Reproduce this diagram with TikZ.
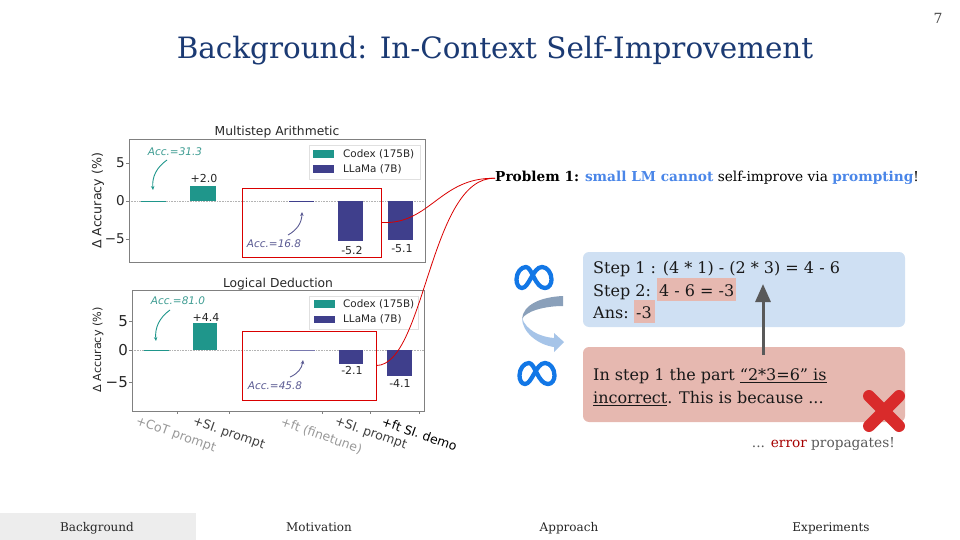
\documentclass[tikz,border=0pt]{standalone}
\usepackage{fontspec}
\setmainfont{DejaVu Serif}
\newfontfamily\plotfont{DejaVu Sans}
\usetikzlibrary{arrows.meta}
\definecolor{titleblue}{HTML}{1B3A73}
\definecolor{hiblue}{HTML}{4A86E8}
\definecolor{codexteal}{HTML}{1F968B}
\definecolor{llamanavy}{HTML}{3F3F8C}
\definecolor{accteal}{HTML}{3E9C92}
\definecolor{accnavy}{HTML}{5A5A92}
\definecolor{stepblue}{HTML}{CFE0F3}
\definecolor{stepred}{HTML}{E6B8B0}
\definecolor{axisgray}{HTML}{808080}
\definecolor{metablue}{HTML}{1277E6}
\definecolor{crossred}{HTML}{D92B2B}
\definecolor{turndark}{HTML}{8AA0BA}
\definecolor{turnlight}{HTML}{A6C4E8}
\newcommand{\fsize}[1]{\fontsize{#1}{#1}\selectfont}
\newcommand{\ulbar}[1]{\setbox0\hbox{#1}\rlap{\rule[-3pt]{\wd0}{1.3pt}}\box0}
\begin{document}
\begin{tikzpicture}[x=1pt,y=-1pt]
\tikzstyle{every node}+=[inner sep=0pt]
\tikzstyle{plotaxes}=[draw=axisgray,line width=0.8pt]
\tikzstyle{zeroline}=[axisgray!60,densely dotted,line width=0.6pt]
\tikzstyle{codexbar}=[fill=codexteal]
\tikzstyle{llamabar}=[fill=llamanavy]
\tikzstyle{charttitle}=[font=\plotfont\fsize{12.3},text=black!85]
\tikzstyle{yticktext}=[anchor=east,text=black!85]
\tikzstyle{ylabeltext}=[rotate=90,text=black!85]
\tikzstyle{legendtext}=[font=\plotfont\fsize{10.4},anchor=west,text=black!85]
\tikzstyle{legendbox}=[draw=black!12,fill=white,line width=0.5pt]
\tikzstyle{valuetext}=[font=\plotfont\fsize{11},text=black!85]
\tikzstyle{acctext}=[font=\plotfont\itshape\fsize{10.5}]
\tikzstyle{accarrow}=[-{Stealth[length=4pt,width=3.5pt]},line width=0.9pt]
\tikzstyle{redframe}=[draw=red!85!black,line width=0.9pt,minimum width=0pt]
\tikzstyle{xlabeltext}=[font=\plotfont\fsize{12.5},rotate=-19.5,anchor=north west]
\tikzstyle{linkcurve}=[red!85!black,line width=0.8pt]
\tikzstyle{stepbox}=[rounded corners=6pt]
\tikzstyle{steptext}=[font=\fsize{16},anchor=base west,text=black!90]
\tikzstyle{tabtext}=[font=\fsize{12},anchor=base,text=black!85]
\useasboundingbox (0,0) rectangle (960,540);
% header
\node (titletext) [font=\fsize{29.4},anchor=base,text=titleblue] at (495,59) {Background: In-Context Self-Improvement};
\node (pagenum) [font=\fsize{14},text=black!70] at (938,18) {7};
% footer
\fill [black!7] (0,513) rectangle (196,540);
\node (tabbackground) [tabtext] at (97,531) {Background};
\node (tabmotivation) [tabtext] at (319,531) {Motivation};
\node (tabapproach) [tabtext] at (569,531) {Approach};
\node (tabexperiments) [tabtext] at (831,531) {Experiments};
% upper chart
\draw [zeroline] (129,201) -- (425,201);
\fill [codexbar] (141,200.5) rectangle (166,201.5);
\fill [codexbar] (190,186) rectangle (216,201);
\fill [llamabar] (289,200.5) rectangle (314,201.5);
\fill [llamabar] (338,201) rectangle (363,241);
\fill [llamabar] (388,201) rectangle (413,240);
\draw [plotaxes] (129,139) rectangle (425,262);
\foreach \ypos in {163,201,239} \draw [axisgray] (126,\ypos) -- (129,\ypos);
\node (uppertitle) [charttitle] at (277,132.5) {Multistep Arithmetic};
\node (upperfive) [yticktext,font=\plotfont\fsize{13.5}] at (125,163) {5};
\node (upperzero) [yticktext,font=\plotfont\fsize{13.5}] at (125,201) {0};
\node (upperminus) [yticktext,font=\plotfont\fsize{13.5}] at (125,239) {−5};
\node (upperylabel) [ylabeltext,font=\plotfont\fsize{12.6}] at (98,201) {Δ Accuracy (\%)};
\draw [legendbox] (309,145) rectangle (420,179);
\fill [codexbar] (313,150) rectangle (334,158);
\fill [llamabar] (313,165) rectangle (334,173);
\node (uppercodex) [legendtext] at (343,154) {Codex (175B)};
\node (upperllama) [legendtext] at (343,169) {LLaMa (7B)};
\node (uppergain) [valuetext] at (204,178) {+2.0};
\node (upperdropa) [valuetext] at (352,250) {-5.2};
\node (upperdropb) [valuetext] at (402,249) {-5.1};
\node (upperacca) [acctext,text=accteal] at (175,152) {Acc.=31.3};
\node (upperaccb) [acctext,text=accnavy] at (274,244) {Acc.=16.8};
\coordinate (upperarrowa) at (167,160);
\coordinate (upperheada) at (153,190);
\coordinate (upperarrowb) at (288,235);
\coordinate (upperheadb) at (302,212);
\draw [accarrow,codexteal] (upperarrowa) to [bend right=30] (upperheada);
\draw [accarrow,accnavy] (upperarrowb) to [bend right=30] (upperheadb);
\node (upperframe) [redframe,minimum width=139pt,minimum height=69pt] at (311.5,222.5) {};
% lower chart
\draw [zeroline] (132,350) -- (424,350);
\fill [codexbar] (144,349.5) rectangle (169,350.5);
\fill [codexbar] (193,323) rectangle (217,350);
\fill [fill=llamanavy!70] (290,349.5) rectangle (315,351);
\fill [llamabar] (339,350) rectangle (363,364);
\fill [llamabar] (387,350) rectangle (412,376);
\draw [plotaxes] (132,290) rectangle (424,411);
\foreach \ypos in {321,350,382} \draw [axisgray] (129,\ypos) -- (132,\ypos);
\foreach \xpos in {177,229,322,370,419} \draw [axisgray] (\xpos,411) -- (\xpos,414);
\node (lowertitle) [charttitle] at (278,284) {Logical Deduction};
\node (lowerfive) [yticktext,font=\plotfont\fsize{15}] at (128,321) {5};
\node (lowerzero) [yticktext,font=\plotfont\fsize{15}] at (128,350) {0};
\node (lowerminus) [yticktext,font=\plotfont\fsize{15}] at (128,382) {−5};
\node (lowerylabel) [ylabeltext,font=\plotfont\fsize{11.2}] at (98,350) {Δ Accuracy (\%)};
\draw [legendbox] (309,296) rectangle (418,329);
\fill [codexbar] (314,300) rectangle (335,308);
\fill [llamabar] (314,316) rectangle (335,323);
\node (lowercodex) [legendtext] at (343,304) {Codex (175B)};
\node (lowerllama) [legendtext] at (343,319.5) {LLaMa (7B)};
\node (lowergain) [valuetext] at (206,317) {+4.4};
\node (lowerdropa) [valuetext] at (352,370) {-2.1};
\node (lowerdropb) [valuetext] at (400,383) {-4.1};
\node (loweracca) [acctext,text=accteal] at (178,301) {Acc.=81.0};
\node (loweraccb) [acctext,text=accnavy] at (275,386) {Acc.=45.8};
\coordinate (lowerarrowa) at (170,310);
\coordinate (lowerheada) at (156,341);
\coordinate (lowerarrowb) at (290,377);
\coordinate (lowerheadb) at (303,360);
\draw [accarrow,codexteal] (lowerarrowa) to [bend right=30] (lowerheada);
\draw [accarrow,accnavy] (lowerarrowb) to [bend right=30] (lowerheadb);
\node (lowerframe) [redframe,minimum width=134pt,minimum height=69pt] at (309,365.5) {};
\node (xlabela) [xlabeltext,text=black!40] at (138,415) {+CoT prompt};
\node (xlabelb) [xlabeltext,text=black!75] at (195,415) {+SI. prompt};
\node (xlabelc) [xlabeltext,text=black!40] at (283,416) {+ft (finetune)};
\node (xlabeld) [xlabeltext,text=black!75] at (337,415) {+SI. prompt};
\node (xlabele) [xlabeltext,text=black] at (384,416) {+ft SI. demo};
% problem statement
\node (problemtext) [font=\fsize{13.7},anchor=base west] at (495,182) {\textbf{Problem 1:} \textcolor{hiblue}{\textbf{small LM cannot}} self-improve via \textcolor{hiblue}{\textbf{prompting}}!};
\draw [linkcurve] (upperframe.east) .. controls (430,225) and (440,177) .. (problemtext.west);
\draw [linkcurve] (lowerframe.east) .. controls (425,365) and (430,176) .. (problemtext.west);
% steps
\node (answerbox) [stepbox,fill=stepblue,minimum width=322pt,minimum height=75pt] at (744,289.5) {};
\node (feedbackbox) [stepbox,fill=stepred,minimum width=322pt,minimum height=75pt] at (744,384.5) {};
\fill [stepred] (657,278) rectangle (736,301);
\fill [stepred] (634,300) rectangle (655,323);
\node (stepone) [steptext] at (593,273) {Step 1 : (4 * 1) - (2 * 3) = 4 - 6};
\node (steptwo) [steptext] at (593,296) {Step 2:};
\node (steptwoval) [steptext] at (659,296) {4 - 6 = -3};
\node (stepans) [steptext] at (593,318) {Ans:};
\node (stepansval) [steptext] at (636,318) {-3};
\node (feedbacka) [steptext] at (593,380) {In step 1 the part \ulbar{“2*3=6” is}};
\node (feedbackb) [steptext] at (593,403) {\ulbar{incorrect}. This is because ...};
\coordinate (pointerstart) at (763,355);
\coordinate (pointerend) at (763,284);
\draw [-{Triangle[length=18pt,width=15pt]},black!65,line width=3pt] (pointerstart) -- (pointerend);
\draw [crossred,line width=12pt,line cap=round] (869,396) -- (899,426);
\draw [crossred,line width=12pt,line cap=round] (899,396) -- (869,426);
\node (propagates) [font=\fsize{13.7},anchor=base east,text=black!65] at (895,447) {... \textcolor{red!65!black}{error} propagates!};
% logos and turn arrow
\tikzset{metalogo/.pic={\draw [metablue,line width=4.3pt,line join=round] (2.5,15) .. controls (2.5,8) and (7,2.5) .. (12,2.5) .. controls (18,2.5) and (21,23.5) .. (31,23.5) .. controls (35,23.5) and (37.5,19.5) .. (37.5,15) .. controls (37.5,8) and (33,2.5) .. (28,2.5) .. controls (19,2.5) and (15,23.5) .. (8,23.5) .. controls (4.5,23.5) and (2.5,19.5) .. (2.5,15) -- cycle;}}
\pic at (514,264.5) {metalogo};
\pic at (517,360.5) {metalogo};
\fill [turndark] (563,296) .. controls (540,297) and (523,305) .. (522,319) .. controls (526,311) and (545,306) .. (563,306) -- cycle;
\fill [turnlight] (522,318) .. controls (522,332) and (538,345) .. (554,347) -- (554,352) -- (564,342) -- (554,333) -- (554,338) .. controls (540,337) and (526,330) .. (522,318) -- cycle;
\end{tikzpicture}
\end{document}
